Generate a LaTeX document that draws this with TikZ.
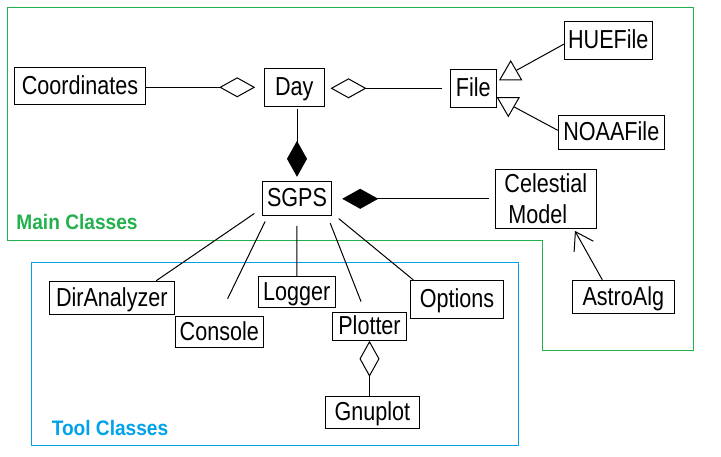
\documentclass[tikz,border=0pt]{standalone}
\usepackage{fontspec}
\usepackage{tikz}
\usetikzlibrary{arrows.meta}
\usetikzlibrary{shapes.geometric}
\newfontfamily\classfont[FakeStretch=0.83]{Liberation Sans}
\newfontfamily\groupfont[FakeStretch=0.91]{Liberation Sans}
\definecolor{maingreen}{RGB}{34,177,76}
\definecolor{toolblue}{RGB}{0,162,232}
\tikzset{
  mybox/.style={
    draw=black,
    shape=rectangle,
    line width=1pt,
    inner sep=0pt,
    align=center,
    font=\classfont\fontsize{26}{31}\selectfont
  },
  myclass/.style={
    mybox,
    text height=18.5pt,
    text depth=1.5pt,
  },
  mytri/.style={
    draw=black,
    line width=1pt,
    regular polygon,
    regular polygon sides=3,
    minimum size=25pt,
    inner sep=0pt,
  },
  mygroup/.style={
    font=\groupfont\bfseries\fontsize{21}{24}\selectfont,
    inner sep=0pt
  },
  myline/.style={
    draw=black,
    line width=1pt,
  },
  myagg/.style={
    myline,
    -{Diamond[open,length=36pt,width=20pt]},
  },
  mycomp/.style={
    myline,
    -{Diamond[length=36pt,width=20pt]},
  },
}

\begin{document}
\begin{tikzpicture}[x=1pt,y=-1pt]
  \useasboundingbox (0,0) rectangle (721,456);

  % package frames
  \draw[maingreen, line width=1pt] (7,7) -- (693,7) -- (693,350) -- (542,350)
     -- (542,240) -- (7,240) -- cycle;
  \draw[toolblue, line width=1pt] (31.3,262.3) rectangle (518.3,445);
  \node[mygroup, text=maingreen] (mainlbl) at (77,222) {Main Classes};
  \node[mygroup, text=toolblue] (toollbl) at (110,427.5) {Tool Classes};

  % main classes
  \node[myclass, minimum width=131.4pt, minimum height=37pt] (coord) at (80,85.8) {Coordinates};
  \node[myclass, minimum width=60pt, minimum height=38pt] (day) at (294.3,87.3) {Day};
  \node[myclass, minimum width=46.3pt, minimum height=38pt] (file) at (473.2,88.3) {File};
  \node[myclass, minimum width=88pt, minimum height=38pt] (huefile) at (608.3,40.3) {HUEFile};
  \node[myclass, minimum width=106pt, minimum height=33.7pt] (noaafile) at (611.3,132.2) {NOAAFile};
  \node[myclass, minimum width=69.4pt, minimum height=34pt] (sgps) at (297,198.3) {SGPS};
  \node[mybox, align=left, minimum width=101pt, minimum height=59pt] (celestial) at (545.8,198.8) {Celestial\\\hspace{4pt}Model};
  \node[myclass, minimum width=102pt, minimum height=33pt] (astroalg) at (623.3,296.8) {AstroAlg};

  % tool classes
  \node[myclass, minimum width=125pt, minimum height=33pt] (diranalyzer) at (111.8,297.8) {DirAnalyzer};
  \node[myclass, minimum width=88pt, minimum height=31pt] (console) at (219.3,331.8) {Console};
  \node[myclass, minimum width=77pt, minimum height=31pt] (logger) at (296.8,291.8) {Logger};
  \node[myclass, minimum width=73.6pt, minimum height=28pt] (plotter) at (369.5,326.3) {Plotter};
  \node[myclass, minimum width=93.4pt, minimum height=38pt] (options) at (457,299.3) {Options};
  \node[myclass, minimum width=94pt, minimum height=32pt] (gnuplot) at (372.3,412.3) {Gnuplot};

  % inheritance triangles
  \node[mytri] (huetri) at (510.7,73.5) {};
  \node[mytri, shape border rotate=180] (noaatri) at (508.3,103.8) {};

  % relations
  \draw[myagg, shorten >=8.6pt] (coord.east |- day.west) -- (day.west);
  \draw[myagg, shorten <=7.3pt, shorten >=5.7pt] (file.west) -- (file.west -| day.east);
  \draw[mycomp, shorten <=1.7pt, shorten >=4pt] (sgps.north |- day.south) -- (sgps.north);
  \draw[mycomp, shorten <=6.3pt, shorten >=10pt] (celestial.west) -- (celestial.west -| sgps.east);
  \draw[myagg] (plotter.south |- gnuplot.north) -- (plotter.south);
  \draw[myline] (huefile.185) -- (huetri);
  \draw[myline] (noaafile.178) -- (noaatri);
  \draw[myline, -{Straight Barb[length=17pt,width=22pt]}, shorten >=2.4pt] (astroalg.141) -- (celestial.313);

  \draw[myline, shorten <=9pt] (sgps.196) -- (diranalyzer.21);
  \draw[myline, shorten <=6.3pt, shorten >=19pt] (sgps.211) -- (console.north);
  \draw[myline, shorten <=10pt] (sgps.south) -- (logger.north);
  \draw[myline, shorten <=8pt, shorten >=11pt] (sgps.330) -- (plotter.107);
  \draw[myline, shorten <=8.5pt] (sgps.337) -- (options.156);
\end{tikzpicture}
\end{document}
